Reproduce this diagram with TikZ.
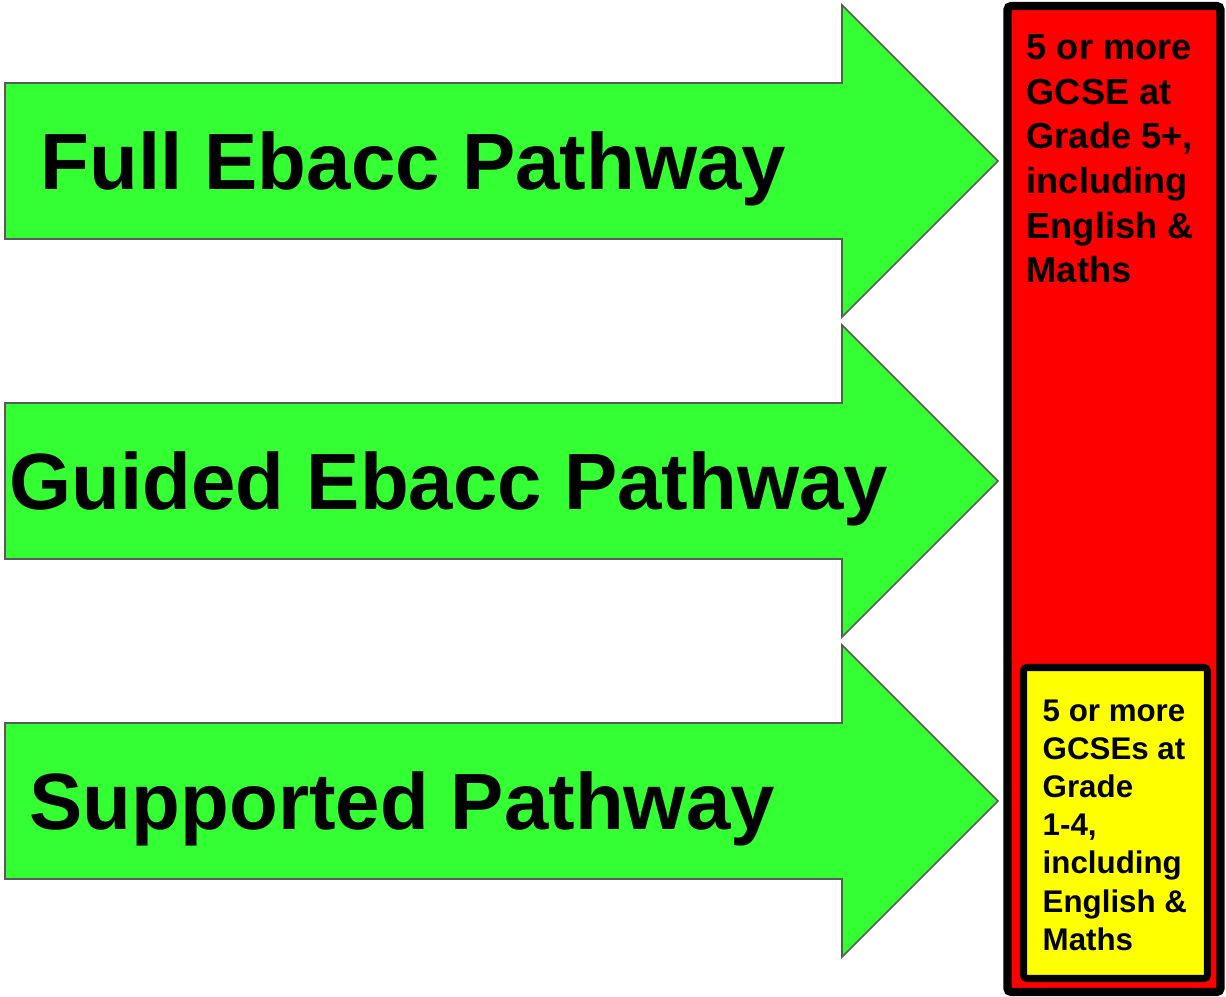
\documentclass[tikz,border=0pt]{standalone}
\usepackage{fontspec}
\setmainfont{Liberation Sans}
\definecolor{arrowgreen}{HTML}{33FF33}
\definecolor{arrowgrey}{HTML}{5A5A5A}
\definecolor{gradered}{HTML}{FF0000}
\definecolor{gradeyellow}{HTML}{FFFF00}
\begin{document}
\begin{tikzpicture}[x=0.01cm,y=-0.01cm,
  patharrow/.style={draw=arrowgrey,fill=arrowgreen,line width=0.45pt,line join=miter},
  pathlabel/.style={anchor=base west,inner sep=0pt,font=\fontsize{22.7}{27}\selectfont\bfseries},
  gradetext/.style={anchor=north west,inner sep=0pt,align=left}]
\useasboundingbox (0,0) rectangle (1226,997);
% the three pathways
\foreach \y/\name/\txt/\x in {0/full/Full Ebacc Pathway/40,
    320/guided/Guided Ebacc Pathway/9,
    640/supported/Supported Pathway/29} {
  \draw[patharrow] (5,83+\y) -- (842,83+\y) -- (842,5+\y) -- (998,161+\y)
    -- (842,317+\y) -- (842,239+\y) -- (5,239+\y) -- cycle;
  \node[pathlabel] (\name) at (\x,190+\y) {\txt};
}
% outcome boxes
\draw[fill=gradered,line width=2.3pt,rounded corners=1pt] (1007.5,6) rectangle (1220.5,992);
\draw[fill=gradeyellow,line width=2pt,rounded corners=1pt] (1023.5,667.5) rectangle (1207.5,978.5);
\node[gradetext,font=\fontsize{10.3}{12.7}\selectfont\bfseries] (upper) at (1026,34)
  {5 or more\\GCSE at\\Grade 5+,\\including\\English \&\\Maths};
\node[gradetext,font=\fontsize{8.9}{10.85}\selectfont\bfseries] (lower) at (1042,699)
  {5 or more\\GCSEs at\\Grade\\1-4,\\including\\English \&\\Maths};
\end{tikzpicture}
\end{document}
